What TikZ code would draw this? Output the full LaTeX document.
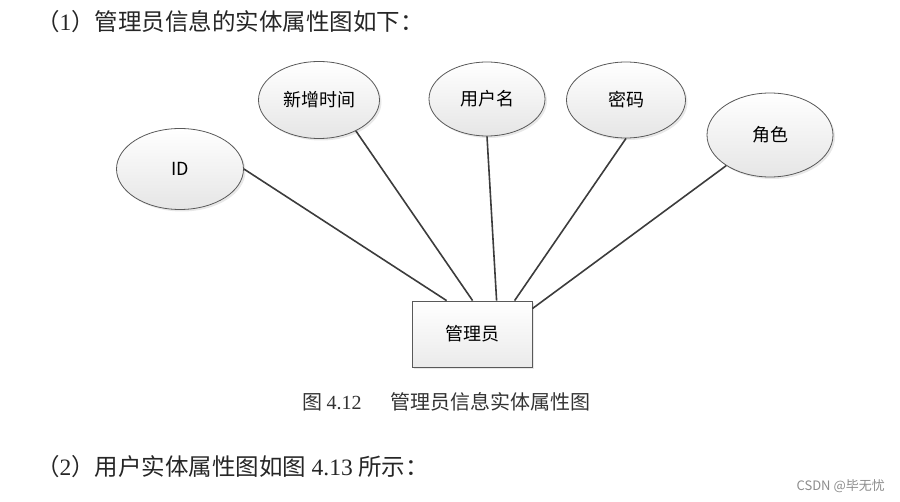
\documentclass[tikz,border=0pt]{standalone}
\usepackage{fontspec}
\setmainfont{Noto Sans CJK SC}
\newfontfamily\numfont{Liberation Serif}
\usepackage{tikz}
\usetikzlibrary{
    positioning,
    shapes.geometric,
    shadows,
    calc
}
\definecolor{edgegray}{HTML}{3C3C3C}
\definecolor{textgray}{HTML}{333333}

\begin{document}
\begin{tikzpicture}[
    x=1pt, y=-1pt,
    attr/.style={ellipse, draw=black!65, line width=0.8pt, top color=white, bottom color=black!10, inner sep=0pt, font=\fontsize{18}{20}\selectfont, drop shadow={opacity=0.18, shadow xshift=2pt, shadow yshift=-2pt}},
    entity/.style={rectangle, draw=black!65, line width=0.8pt, top color=white, bottom color=black!8, minimum width=120pt, minimum height=66pt, inner sep=0pt, font=\fontsize{18}{20}\selectfont, drop shadow={opacity=0.18, shadow xshift=2pt, shadow yshift=-2pt}},
    link/.style={draw=edgegray, line width=1.6pt},
    para/.style={anchor=west, inner sep=0pt, text=black!85, font=\fontsize{23.5}{25}\selectfont},
]
    \useasboundingbox (0,0) rectangle (900,502);

    % Text above
    \node[para] (head) at (36,22) {（{\numfont 1}）管理员信息的实体属性图如下：};

    % Attributes
    \node[attr, minimum width=127pt, minimum height=81pt] (id) at (180,169) {ID};
    \node[attr, minimum width=121pt, minimum height=77pt] (time) at (319,100) {新增时间};
    \node[attr, minimum width=116pt, minimum height=74pt] (user) at (487,99) {用户名};
    \node[attr, minimum width=119pt, minimum height=76pt] (pwd) at (626,100) {密码};
    \node[attr, minimum width=126pt, minimum height=84pt] (role) at (770,135) {角色};

    % Entity
    \node[entity] (admin) at (472,334) {管理员};

    % Links
    \draw[link] (id.east) -- ($(admin.north west)+(35,0)$);
    \draw[link] (time.-40) -- ($(admin.north west)+(61,0)$);
    \draw[link] (user.south) -- ($(admin.north west)+(85,0)$);
    \draw[link] (pwd.south) -- ($(admin.north west)+(103,0)$);
    \draw[link] (role.215) -- ($(admin.north east)+(0,8)$);

    % Caption
    \node[anchor=west, inner sep=0pt, text=textgray, font=\fontsize{20}{22}\selectfont] (cap) at (302,402) {图\ {\numfont 4.12}\quad\ \ 管理员信息实体属性图};

    % Text below
    \node[para] (next) at (36,467) {（{\numfont 2}）用户实体属性图如图\ {\numfont 4.13}\ 所示：};
    \node[anchor=east, inner sep=0pt, text=black!45, font=\fontsize{13}{14}\selectfont] (mark) at (885,486) {CSDN @毕无忧};
\end{tikzpicture}
\end{document}
